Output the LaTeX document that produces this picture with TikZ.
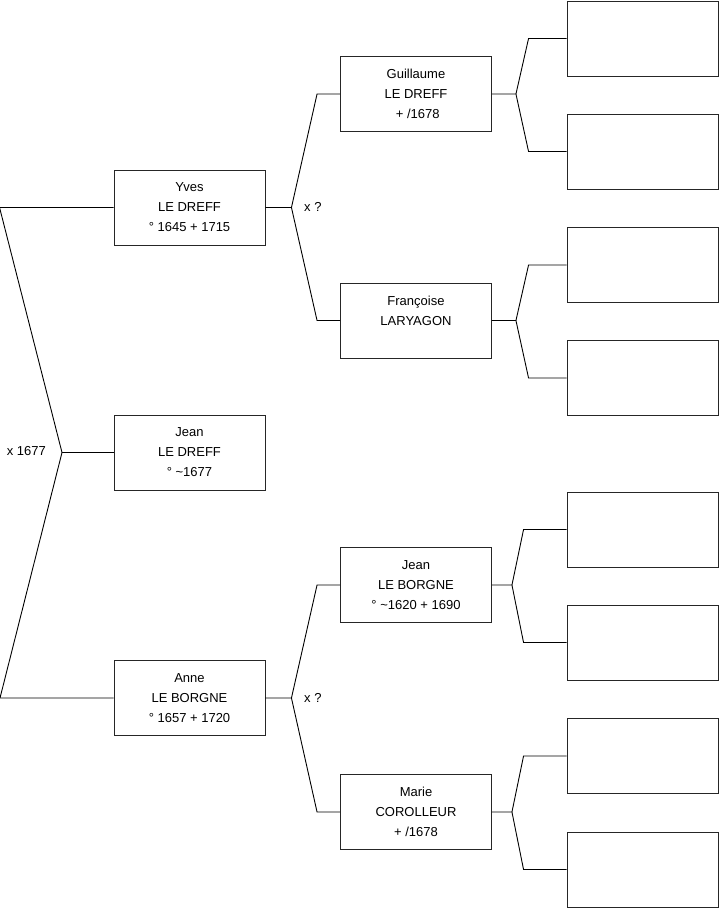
\documentclass[tikz,border=0pt]{standalone}
\usepackage{fontspec}
\setmainfont{Liberation Sans}
\tikzset{
  pers/.style={draw=black!85, line width=0.9pt, minimum width=151pt, minimum height=75pt,
    inner sep=0pt, align=center, font=\fontsize{13}{20}\selectfont},
  lien/.style={draw=black, line width=0.9pt},
  mariage/.style={inner sep=2pt, font=\fontsize{13}{20}\selectfont}
}
\begin{document}
\begin{tikzpicture}[x=1pt, y=-1pt]
    \useasboundingbox (0,0) rectangle (719,908);

    % enfant
    \node[pers] (jeanld) at (189.5,452.5) {Jean\\LE DREFF\\° \textasciitilde1677};

    % parents
    \node[pers] (yves) at (189.5,207.5) {Yves\\LE DREFF\\° 1645 + 1715};
    \node[pers] (anne) at (189.5,698) {Anne\\LE BORGNE\\° 1657 + 1720};

    % grands-parents
    \node[pers] (guil) at (416,94) {Guillaume\\LE DREFF\\\ + /1678};
    \node[pers] (fran) at (416,320.5) {Françoise\\LARYAGON\\\mbox{}};
    \node[pers] (jeanlb) at (416,585) {Jean\\LE BORGNE\\° \textasciitilde1620 + 1690};
    \node[pers] (marie) at (416,812) {Marie\\COROLLEUR\\+ /1678};

    % arrière-grands-parents (vides)
    \foreach \y [count=\i] in {38.5,151.5,265,378,529.5,642.5,756,869.5}
        \node[pers] (e\i) at (642.5,\y) {};

    % liens enfant -> parents
    \coordinate (f0) at (62,452.5);
    \draw[lien] (yves.west) -- ++(-114,0) coordinate (g0) -- (f0) -- (0,698) coordinate (h0) -- (anne.west);
    \draw[lien] (f0) -- (jeanld.west);
    \node[mariage, left] (m0) at (48,451) {x 1677};

    % liens parents -> grands-parents
    \draw[lien] (yves.east) -- ++(26,0) coordinate (f1) -- ([xshift=-23pt]guil.west) -- (guil.west);
    \draw[lien] (f1) -- ([xshift=-23pt]fran.west) -- (fran.west);
    \node[mariage, right] (m1) at (302,207) {x ?};

    \draw[lien] (anne.east) -- ++(26,0) coordinate (f2) -- ([xshift=-23pt]jeanlb.west) -- (jeanlb.west);
    \draw[lien] (f2) -- ([xshift=-23pt]marie.west) -- (marie.west);
    \node[mariage, right] (m2) at (302,698) {x ?};

    % liens grands-parents -> arrière-grands-parents
    \draw[lien] (guil.east) -- ++(24,0) coordinate (f3) -- ([xshift=-38pt]e1.west) -- (e1.west);
    \draw[lien] (f3) -- ([xshift=-38pt]e2.west) -- (e2.west);
    \draw[lien] (fran.east) -- ++(24,0) coordinate (f4) -- ([xshift=-38pt]e3.west) -- (e3.west);
    \draw[lien] (f4) -- ([xshift=-38pt]e4.west) -- (e4.west);
    \draw[lien] (jeanlb.east) -- ++(20,0) coordinate (f5) -- ([xshift=-43pt]e5.west) -- (e5.west);
    \draw[lien] (f5) -- ([xshift=-43pt]e6.west) -- (e6.west);
    \draw[lien] (marie.east) -- ++(20,0) coordinate (f6) -- ([xshift=-43pt]e7.west) -- (e7.west);
    \draw[lien] (f6) -- ([xshift=-43pt]e8.west) -- (e8.west);
\end{tikzpicture}
\end{document}
